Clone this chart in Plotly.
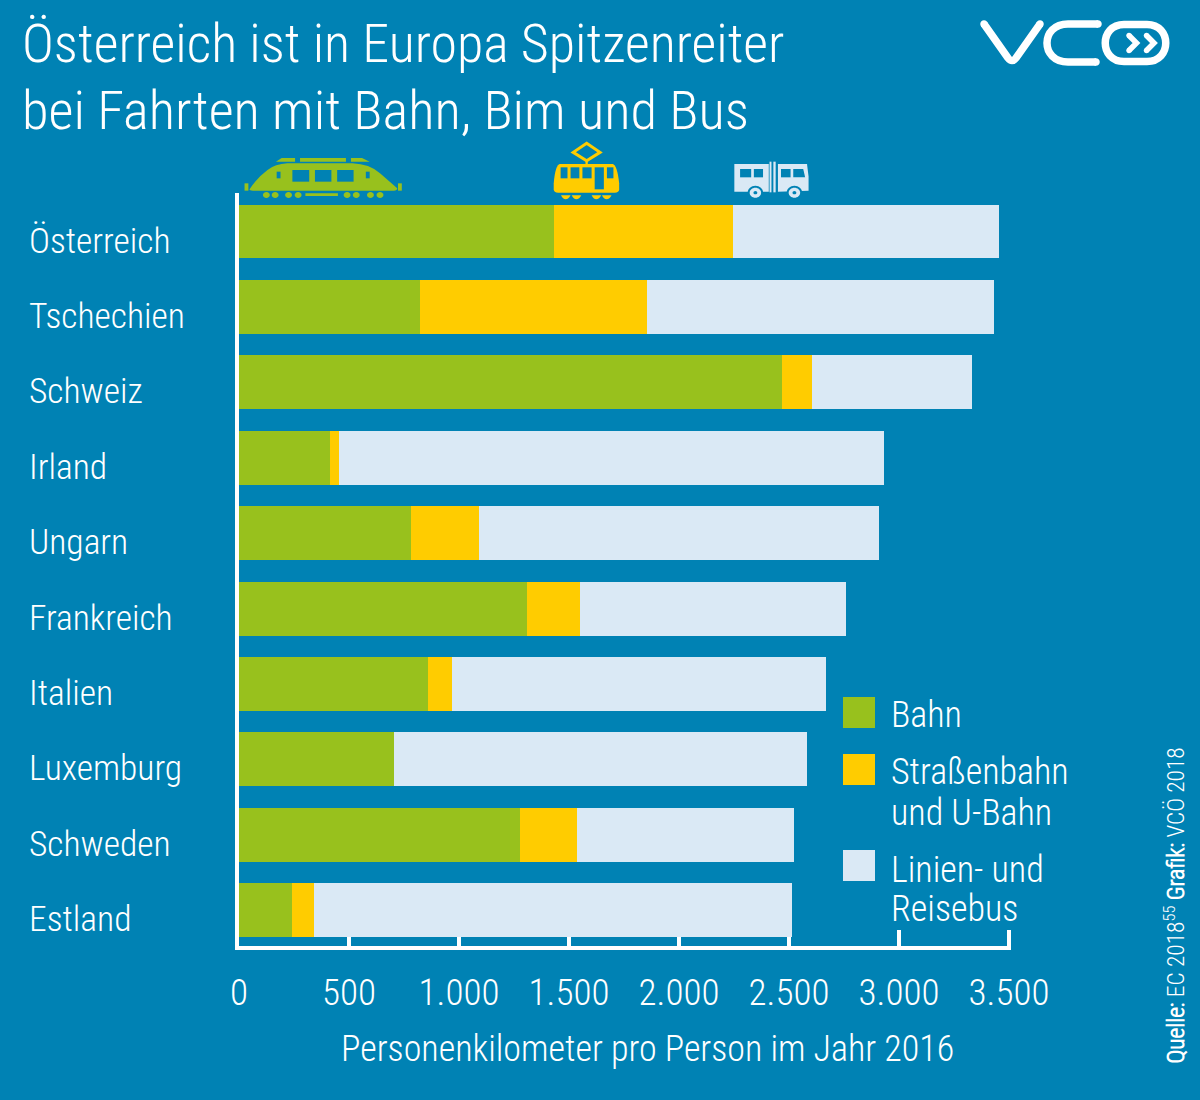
import re
import plotly.graph_objects as go

categories = ["Österreich", "Tschechien", "Schweiz", "Irland", "Ungarn",
              "Frankreich", "Italien", "Luxemburg", "Schweden", "Estland"]
bahn = [1432, 823, 2468, 414, 782, 1309, 859, 705, 1277, 241]
strassenbahn = [813, 1032, 137, 41, 309, 241, 109, 0, 259, 100]
bus = [1210, 1577, 727, 2477, 1818, 1209, 1700, 1877, 987, 2173]
tick_values = [0, 500, 1000, 1500, 2000, 2500, 3000, 3500]
title_lines = ["Österreich ist in Europa Spitzenreiter", "bei Fahrten mit Bahn, Bim und Bus"]
axis_title = "Personenkilometer pro Person im Jahr 2016"
legend_lines = ["Bahn", "Straßenbahn", "und U-Bahn", "Linien- und", "Reisebus"]

BG = "#0082B4"
GREEN = "#98C11D"
YELLOW = "#FFCC00"
LIGHT = "#DAE9F5"
FONT = "Roboto Condensed Light, Roboto Condensed"
W, H = 1200, 1100
ML, MR, MT, MB = 239, 189, 193, 154
PW, PH = W - ML - MR, H - MT - MB


def px(x):
    return (x - ML) / PW


def py(y):
    return (H - MB - y) / PH


fig = go.Figure()
for name, vals, col in [("Bahn", bahn, GREEN), ("Straßenbahn und U-Bahn", strassenbahn, YELLOW),
                        ("Linien- und Reisebus", bus, LIGHT)]:
    fig.add_bar(y=categories, x=vals, name=name, orientation="h", marker=dict(color=col, line_width=0))

shapes = []


def path(d, fill=None, stroke=None, sw=0, ox=0, oy=0, sx=1.0, sy=1.0):
    out = []
    isx = True
    for t in re.findall(r"[MLQCZ]|-?\d+\.?\d*", d):
        if t in "MLQCZ":
            out.append(t)
            isx = True
        elif isx:
            out.append(f"{px(ox + float(t) * sx):.5f},")
            isx = False
        else:
            out.append(f"{py(oy + float(t) * sy):.5f}")
            isx = True
    shapes.append(dict(type="path", xref="paper", yref="paper", path=" ".join(out).replace(", ", ","),
                       fillcolor=fill or "rgba(0,0,0,0)",
                       line=dict(color=stroke or "rgba(0,0,0,0)", width=sw), layer="above"))


def circ(cx, cy, r, fill, **kw):
    k = 0.5523 * r
    d = (f"M{cx - r},{cy} C{cx - r},{cy - k} {cx - k},{cy - r} {cx},{cy - r} "
         f"C{cx + k},{cy - r} {cx + r},{cy - k} {cx + r},{cy} "
         f"C{cx + r},{cy + k} {cx + k},{cy + r} {cx},{cy + r} "
         f"C{cx - k},{cy + r} {cx - r},{cy + k} {cx - r},{cy} Z")
    path(d, fill=fill, **kw)


def rect(x0, y0, x1, y1, fill, **kw):
    path(f"M{x0},{y0} L{x1},{y0} L{x1},{y1} L{x0},{y1} Z", fill=fill, **kw)


Z = dict(ox=230, oy=140, sx=600 / 1568, sy=1 / 3)
# train
path("M52,146 Q72,112 98,90 Q118,72 150,70 L320,70 Q365,72 392,100 L437,145 Q437,152 428,152 L60,152 Q48,152 52,146 Z",
     fill=GREEN, **Z)
path("M120,65 L135,54 L170,54 L170,65 Z", fill=GREEN, **Z)
rect(183, 54, 303, 65, GREEN, **Z)
path("M316,65 L316,54 L345,54 L365,65 Z", fill=GREEN, **Z)
for a, b in [(163, 207), (222, 265), (280, 323)]:
    rect(a, 90, b, 125, BG, **Z)
rect(122, 95, 132, 115, BG, **Z)
rect(355, 95, 365, 115, BG, **Z)
rect(38, 130, 48, 152, GREEN, **Z)
rect(439, 130, 449, 152, GREEN, **Z)
for cx in [95, 118, 153, 178, 306, 330, 367, 392]:
    circ(cx, 165, 9, GREEN, **Z)
rect(197, 160, 282, 168, GREEN, **Z)
# tram
path("M932,10 L967,37 L932,62 L897,37 Z", stroke=YELLOW, sw=3, **Z)
rect(929, 62, 935, 72, YELLOW, **Z)
path("M862,72 L1000,72 Q1012,75 1017,130 L1017,148 Q1017,158 1005,158 L858,158 Q846,158 846,148 L846,130 Q850,75 862,72 Z",
     fill=YELLOW, **Z)
for a, b in [(864, 882), (890, 913), (921, 945), (985, 1002)]:
    rect(a, 82, b, 115, BG, **Z)
rect(953, 82, 977, 148, BG, **Z)
for a in [865, 893, 945, 972]:
    path(f"M{a},166 L{a + 25},166 Q{a + 20},178 {a + 12},178 Q{a + 5},178 {a},166 Z", fill=YELLOW, **Z)
# bus
path("M1318,72 L1408,72 L1408,155 L1318,155 Z", fill=LIGHT, **Z)
rect(1333, 87, 1362, 112, BG, **Z)
rect(1369, 87, 1393, 112, BG, **Z)
rect(1410, 65, 1415, 157, LIGHT, **Z)
rect(1420, 65, 1426, 157, LIGHT, **Z)
path("M1432,72 L1508,72 L1512,110 L1512,152 L1432,155 Z", fill=LIGHT, **Z)
rect(1440, 87, 1465, 112, BG, **Z)
path("M1472,87 L1498,87 L1503,112 L1472,112 Z", fill=BG, **Z)
for cx in [1373, 1475]:
    circ(cx, 157, 20, BG, **Z)
    circ(cx, 158, 15, LIGHT, **Z)
    circ(cx, 158, 5, BG, **Z)
# logo
LW = 7.5
path("M984,24 L1008,58 Q1012,63 1016,58 L1040,24", stroke="white", sw=LW)
for p in [(984, 24), (1040, 24)]:
    circ(p[0], p[1], LW / 2, "white")
path("M1098,24 L1068,24 C1040,24 1040,62 1068,62 L1096,62", stroke="white", sw=LW)
for p in [(1098, 24), (1096, 62)]:
    circ(p[0], p[1], LW / 2, "white")
path("M1124,24.5 L1147,24.5 C1172,24.5 1172,61.5 1147,61.5 L1124,61.5 C1099,61.5 1099,24.5 1124,24.5 Z",
     stroke="white", sw=LW)
for dx in [0, 17.5]:
    x0, x1 = 1129 + dx, 1136.5 + dx
    path(f"M{x0},35.5 L{x1},43 L{x0},50.5", stroke="white", sw=5.5)
    circ(x0, 35.5, 2.75, "white")
    circ(x0, 50.5, 2.75, "white")
# legend swatches
for (y0, y1), col in zip([(697, 728), (754, 785), (850, 881)], [GREEN, YELLOW, LIGHT]):
    rect(843, y0, 875, y1, col)

ann = []


def text(x, y, t, size, anchor="left", yanchor="middle", angle=0):
    ann.append(dict(x=px(x), y=py(y), xref="paper", yref="paper", text=t, showarrow=False, xanchor=anchor,
                    yanchor=yanchor, textangle=angle, align="left",
                    font=dict(family=FONT, size=size, color="white")))


text(20, 44, title_lines[0], 54)
text(20, 110, title_lines[1], 54.5)
for i, c in enumerate(categories):
    text(26.5, 240.5 + i * 75.4, c, 35.5)
for y, t in zip([715, 772, 813, 870, 909], legend_lines):
    text(888.5, y, t, 36)
text(647, 1049, axis_title, 36, anchor="center")
text(1175, 905.5, "<b>Quelle:</b> EC 2018<sup>55</sup> <b>Grafik:</b> VCÖ 2018", 23.4, anchor="center", angle=-90)

fig.update_layout(
    width=W, height=H, margin=dict(l=ML, r=MR, t=MT, b=MB, pad=0), autosize=False,
    paper_bgcolor=BG, plot_bgcolor=BG, barmode="stack", bargap=0.284, showlegend=False,
    separators=",.", font=dict(family=FONT, color="white"), shapes=shapes, annotations=ann,
    xaxis=dict(range=[0, 3509], tickmode="array", tickvals=tick_values, tickformat=",d", ticks="inside",
               ticklen=16, tickwidth=3.5, tickcolor="white", showline=True, linecolor="white", linewidth=3.5,
               showgrid=False, zeroline=False, ticklabelstandoff=11, layer="below traces",
               tickfont=dict(size=37, color="white", family=FONT)),
    yaxis=dict(range=[9.476, -0.5106], type="category", categoryorder="array", categoryarray=categories,
               showticklabels=False, ticks="", showline=True, linecolor="white", linewidth=3.5,
               showgrid=False, zeroline=False),
)
fig.write_html("out.html", post_script="document.body.style.margin='0';", config=dict(displayModeBar=False))
